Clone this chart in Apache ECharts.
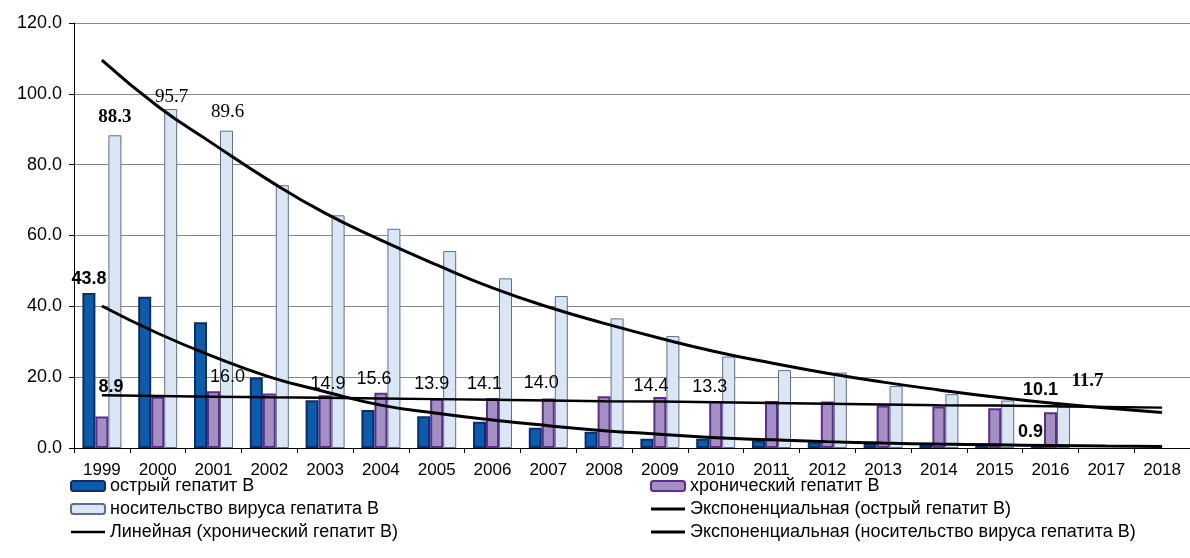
<!DOCTYPE html>
<html>
<head>
<meta charset="utf-8">
<script src="https://cdn.jsdelivr.net/npm/echarts@6/dist/echarts.min.js"></script>
<style>
  html, body { margin: 0; padding: 0; background: #fff; }
  #chart { width: 1190px; height: 558px; }
</style>
</head>
<body>
<div id="chart"></div>
<script>
const years = ['1999', '2000', '2001', '2002', '2003', '2004', '2005', '2006', '2007', '2008',
  '2009', '2010', '2011', '2012', '2013', '2014', '2015', '2016', '2017', '2018'];

// bars
const acute = [43.8, 42.7, 35.5, 19.9, 13.5, 10.7, 9.0, 7.4, 5.7, 4.6, 2.6, 2.6, 2.1, 1.6, 1.3, 1.3, 1.2, 0.9, null, null];
const chronic = [8.9, 14.5, 16.0, 15.4, 14.9, 15.6, 13.9, 14.1, 14.0, 14.6, 14.4, 13.3, 13.3, 13.1, 12.0, 11.7, 11.2, 10.1, null, null];
const carrier = [88.3, 95.7, 89.6, 74.2, 65.7, 61.9, 55.6, 47.9, 42.9, 36.6, 31.6, 25.8, 22.0, 21.3, 17.5, 15.2, 13.4, 11.7, null, null];

// trend lines at each year
const trendAcute = [40.1, 32.4, 25.8, 20.1, 15.9, 12.1, 9.8, 7.9, 6.3, 4.9, 3.9, 2.9, 2.3, 1.8, 1.4, 1.1, 0.9, 0.7, 0.55, 0.45];
const trendChronic = [14.9, 14.7, 14.5, 14.3, 14.2, 14.0, 13.8, 13.6, 13.4, 13.2, 13.1, 12.9, 12.7, 12.5, 12.3, 12.1, 12.0, 11.8, 11.6, 11.4];
const trendCarrier = [109.5, 96.5, 85.8, 75.5, 66.3, 58.7, 51.7, 45.2, 39.8, 35.2, 31.0, 27.2, 24.0, 21.1, 18.6, 16.4, 14.4, 12.7, 11.3, 10.0];

const yTicks = [0, 20, 40, 60, 80, 100, 120];

const names = {
  acute: 'острый гепатит В',
  chronic: 'хронический гепатит В',
  carrier: 'носительство вируса гепатита В',
  expAcute: 'Экспоненциальная (острый гепатит В)',
  linChronic: 'Линейная (хронический гепатит В)',
  expCarrier: 'Экспоненциальная (носительство вируса гепатита В)',
};

const sans = 'Arial, "Liberation Sans", sans-serif';
const serif = '"Times New Roman", "Liberation Serif", serif';

// which bars carry a value label, and how it looks
const lbl = (offset, bold, family) => ({
  show: true,
  position: 'top',
  distance: 2,
  offset: offset,
  color: '#000',
  fontSize: family === serif ? 19 : 18,
  fontWeight: bold ? 'bold' : 'normal',
  fontFamily: family,
  formatter: (p) => p.value.toFixed(1),
});
const acuteLabels = { 0: lbl([0, -3], true, sans), 17: lbl([-7, -2], true, sans) };
const chronicLabels = {
  0: lbl([9, -18], true, sans),
  2: lbl([14, -3], false, sans),
  4: lbl([3, 0], false, sans),
  5: lbl([-7, -3], false, sans),
  6: lbl([-5, -4], false, sans),
  7: lbl([-8, -3], false, sans),
  8: lbl([-7, -4], false, sans),
  10: lbl([-9, 0], false, sans),
  11: lbl([-6, -3], false, sans),
  17: lbl([-10, -11], true, sans),
};
const carrierLabels = {
  0: lbl([0, -7], true, serif),
  1: lbl([1, -1], false, serif),
  2: lbl([1, -7], false, serif),
  17: lbl([24, -14], true, serif),
};

const withLabels = (values, labels) =>
  values.map((v, i) => (labels[i] ? { value: v, label: labels[i] } : v));

const chart = echarts.init(document.getElementById('chart'));

const legendText = { fontFamily: sans, fontSize: 18, lineHeight: 18, color: '#000' };
const lineIcon = (w) => 'path://M0,0 L34,0 L34,' + w + ' L0,' + w + ' Z';

const option = {
  backgroundColor: '#fff',
  animation: false,
  grid: {
    left: 74,
    right: -4,
    top: 23,
    bottom: 110,
  },
  legend: [
    {
      orient: 'vertical',
      left: 70,
      top: 477,
      padding: 0,
      itemWidth: 34,
      itemHeight: 10,
      itemGap: 5,
      textStyle: legendText,
      data: [
        names.acute,
        names.carrier,
        { name: names.linChronic, icon: lineIcon(2.5) },
      ],
    },
    {
      orient: 'vertical',
      left: 650,
      top: 477,
      padding: 0,
      itemWidth: 34,
      itemHeight: 10,
      itemGap: 5,
      textStyle: legendText,
      data: [
        names.chronic,
        { name: names.expAcute, icon: lineIcon(3) },
        { name: names.expCarrier, icon: lineIcon(3) },
      ],
    },
  ],
  xAxis: {
    type: 'category',
    data: years,
    boundaryGap: true,
    axisLine: { lineStyle: { color: '#000', width: 1 } },
    axisTick: { show: true, interval: 0, length: 5, lineStyle: { color: '#000' } },
    axisLabel: { interval: 0, color: '#000', fontFamily: sans, fontSize: 17, margin: 14 },
  },
  yAxis: {
    type: 'value',
    min: yTicks[0],
    max: yTicks[yTicks.length - 1],
    interval: 20,
    axisLine: { show: true, lineStyle: { color: '#000', width: 1 } },
    axisTick: { show: true, length: 5, lineStyle: { color: '#000' } },
    axisLabel: {
      color: '#000',
      fontFamily: sans,
      fontSize: 18,
      margin: 12,
      formatter: (v) => v.toFixed(1),
    },
    splitLine: { lineStyle: { color: '#868686', width: 1 } },
  },
  series: [
    {
      name: names.acute,
      type: 'bar',
      barWidth: 13,
      barGap: '0%',
      itemStyle: { color: '#0a5cad', borderColor: '#0d2c6c', borderWidth: 2 },
      data: withLabels(acute, acuteLabels),
    },
    {
      name: names.chronic,
      type: 'bar',
      barWidth: 13,
      barGap: '0%',
      itemStyle: { color: '#a38fc2', borderColor: '#5e2d8c', borderWidth: 2 },
      data: withLabels(chronic, chronicLabels),
    },
    {
      name: names.carrier,
      type: 'bar',
      barWidth: 13,
      barGap: '0%',
      itemStyle: { color: '#dbe6f4', borderColor: '#5b6f8e', borderWidth: 1 },
      data: withLabels(carrier, carrierLabels),
    },
    {
      name: names.expAcute,
      type: 'line',
      smooth: true,
      symbol: 'none',
      z: 5,
      lineStyle: { color: '#000', width: 3 },
      itemStyle: { color: '#000' },
      data: trendAcute,
    },
    {
      name: names.linChronic,
      type: 'line',
      symbol: 'none',
      z: 5,
      lineStyle: { color: '#000', width: 2.5 },
      itemStyle: { color: '#000' },
      data: trendChronic,
    },
    {
      name: names.expCarrier,
      type: 'line',
      smooth: true,
      symbol: 'none',
      z: 5,
      lineStyle: { color: '#000', width: 3 },
      itemStyle: { color: '#000' },
      data: trendCarrier,
    },
  ],
};

chart.setOption(option);
</script>
</body>
</html>
